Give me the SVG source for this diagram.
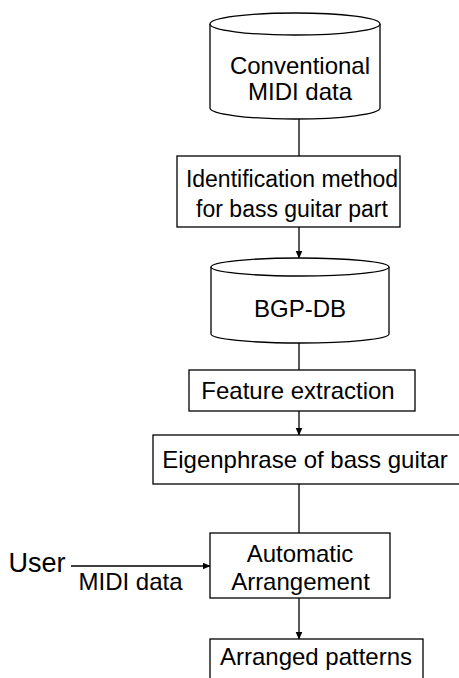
<svg xmlns="http://www.w3.org/2000/svg" width="459" height="678" viewBox="0 0 459 678">
  <style>
    .shape { fill: #ffffff; stroke: #000000; stroke-width: 1.3; }
    .edge { fill: none; stroke: #000000; stroke-width: 1.3; }
    text { font-family: "Liberation Sans", Arial, sans-serif; font-size: 24px; fill: #000000; text-anchor: middle; }
  </style>
  <defs>
    <marker id="arrow" markerWidth="8" markerHeight="8" refX="7.5" refY="3.5" orient="auto" markerUnits="userSpaceOnUse">
      <path d="M0,0 L8,3.5 L0,7 Z" fill="#000000"/>
    </marker>
  </defs>

  <g id="connectors">
    <line class="edge" x1="299" y1="119" x2="299" y2="156"/>
    <line class="edge" x1="299" y1="227" x2="299" y2="258" marker-end="url(#arrow)"/>
    <line class="edge" x1="299" y1="343" x2="299" y2="370"/>
    <line class="edge" x1="299" y1="411" x2="299" y2="435" marker-end="url(#arrow)"/>
    <line class="edge" x1="299" y1="484" x2="299" y2="533"/>
    <line class="edge" x1="299" y1="598" x2="299" y2="639" marker-end="url(#arrow)"/>
    <line class="edge" x1="71" y1="566" x2="210" y2="566" marker-end="url(#arrow)"/>
  </g>

  <g id="conventional-midi-data">
    <path class="shape" d="M210,24 L210,108 A85,11 0 0 0 380,108 L380,24"/>
    <ellipse class="shape" cx="295" cy="24" rx="85" ry="11"/>
    <text x="300" y="74">Conventional</text>
    <text x="300" y="100">MIDI data</text>
  </g>

  <g id="identification-method">
    <rect class="shape" x="177" y="156" width="223" height="71"/>
    <text x="292" y="187" style="font-size:23px">Identification method</text>
    <text x="292" y="217" style="font-size:23px">for bass guitar part</text>
  </g>

  <g id="bgp-db">
    <path class="shape" d="M211,267 L211,334 A89,9 0 0 0 389,334 L389,267"/>
    <ellipse class="shape" cx="300" cy="267" rx="89" ry="9"/>
    <text x="300" y="317">BGP-DB</text>
  </g>

  <g id="feature-extraction">
    <rect class="shape" x="189" y="370" width="226" height="41"/>
    <text x="298" y="399">Feature extraction</text>
  </g>

  <g id="eigenphrase">
    <rect class="shape" x="153" y="435" width="320" height="49"/>
    <text x="305" y="468">Eigenphrase of bass guitar</text>
  </g>

  <g id="automatic-arrangement">
    <rect class="shape" x="210" y="533" width="180" height="65"/>
    <text x="300" y="562">Automatic</text>
    <text x="300.5" y="590">Arrangement</text>
  </g>

  <g id="arranged-patterns">
    <rect class="shape" x="210" y="639" width="213" height="50"/>
    <text x="316" y="665">Arranged patterns</text>
  </g>

  <g id="user">
    <text x="37" y="572" style="font-size:27px">User</text>
  </g>

  <text x="130.5" y="590">MIDI data</text>
</svg>
